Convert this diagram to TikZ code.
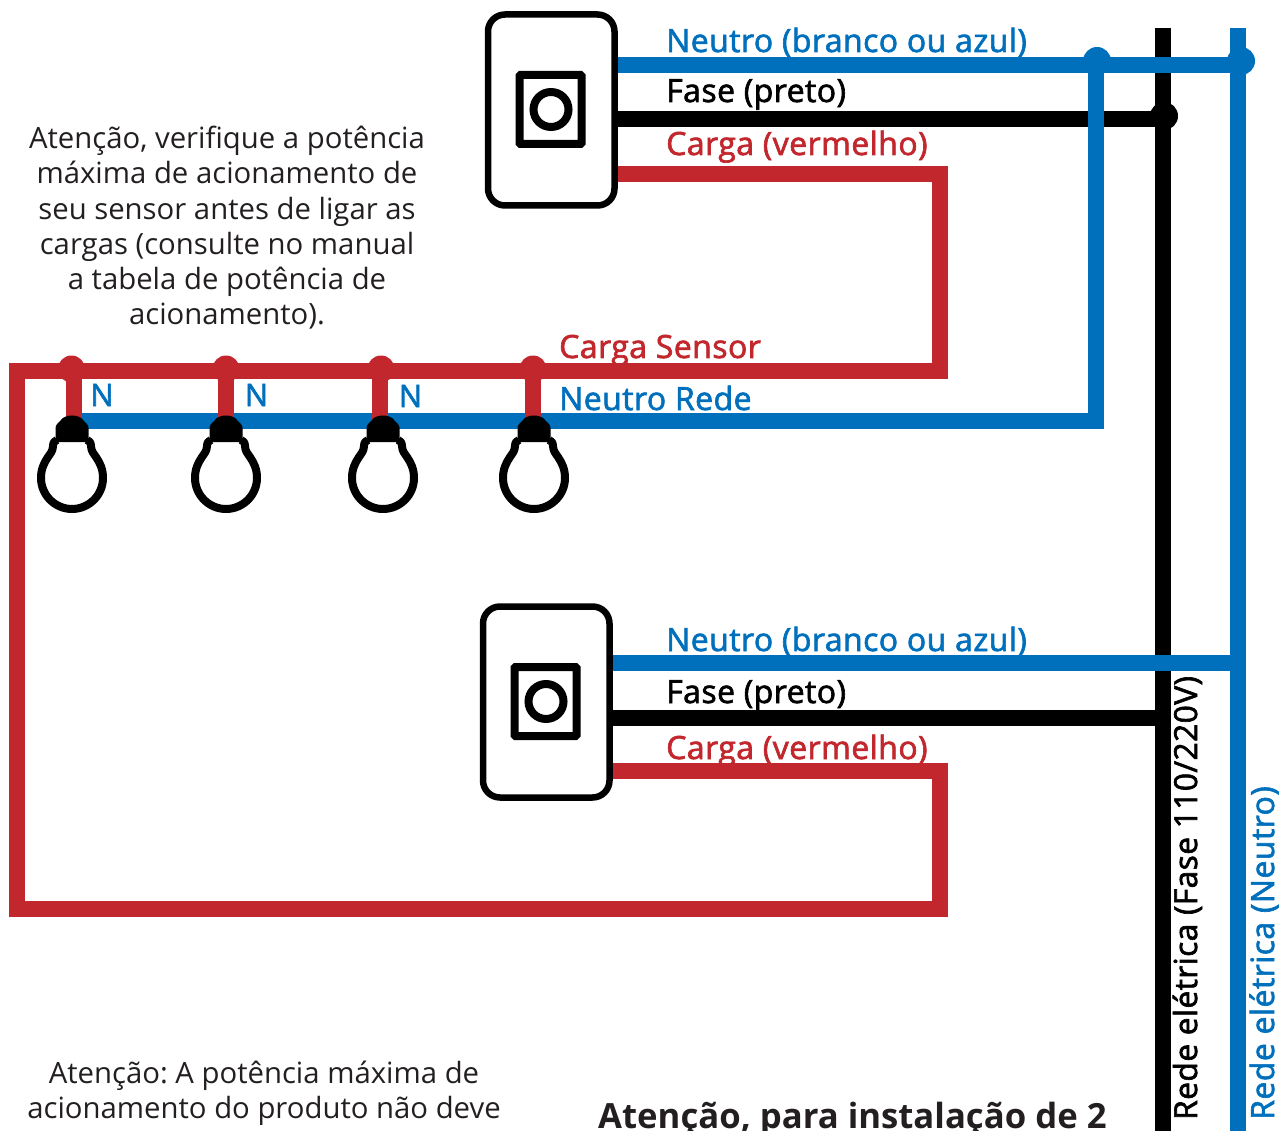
\documentclass[tikz,border=0pt]{standalone}
\usepackage{fontspec}
\setmainfont{Open Sans}
\newfontfamily\medfont[FakeBold=2,LetterSpace=1.4]{Open Sans}
\newfontfamily\boldfont{Open Sans Bold}
\definecolor{wblue}{HTML}{0070BD}
\definecolor{wred}{HTML}{C1272D}
\definecolor{ink}{HTML}{231F20}
\tikzset{
  wire/.style={line width=16pt,line cap=butt,line join=miter},
  wireblue/.style={wire,draw=wblue},
  wirered/.style={wire,draw=wred},
  wireblack/.style={wire,draw=black},
  lbl/.style={anchor=base west,inner sep=0pt,font=\medfont\fontsize{32}{36}\selectfont},
  note/.style={align=center,inner sep=0pt,text=ink,font=\frenchspacing\fontsize{29.3}{35.2}\selectfont},
  nlabel/.style={anchor=base,inner sep=0pt,text=wblue,font=\medfont\fontsize{31}{34}\selectfont},
  pics/lamp/.style={code={
    \draw[line width=8pt,black,fill=white,line join=round]
      (-15,-38) .. controls (-17,-37) and (-19,-36) .. (-19,-32)
      .. controls (-19,-27) and (-22,-24) .. (-24,-21)
      .. controls (-28,-15) and (-31,-9) .. (-31,0)
      .. controls (-31,17) and (-17,31) .. (0,31)
      .. controls (17,31) and (31,17) .. (31,0)
      .. controls (31,-9) and (28,-15) .. (24,-21)
      .. controls (22,-24) and (19,-27) .. (19,-32)
      .. controls (19,-36) and (17,-37) .. (15,-38);
    \fill[black] (-15,-36) -- (-16.5,-41) -- (-16.5,-50) .. controls (-16.5,-54) and (-13,-55) .. (-11,-58)
      .. controls (-7,-64) and (7,-64) .. (11,-58)
      .. controls (13,-55) and (16.5,-54) .. (16.5,-50) -- (16.5,-41) -- (15,-36) -- cycle;
  }},
  pics/wswitch/.style={code={
    \draw[line width=6.5pt,black,fill=white,rounded corners=17pt] (-63,-95) rectangle (63.5,96);
    \draw[line width=8pt,black,rounded corners=1pt] (-31.5,-34.5) rectangle (30.5,34.5);
    \draw[line width=8pt,black] (0,0) circle[radius=17.5pt];
  }}
}
\begin{document}
\begin{tikzpicture}[x=1pt,y=-1pt]
\useasboundingbox (0,0) rectangle (1279,1131);
\clip (0,0) rectangle (1279,1131);
% coordinates
\coordinate (sw1) at (551,109.5);
\coordinate (sw2) at (546,701.5);
\coordinate (blackTop) at (1163,28);
\coordinate (blackBot) at (1163,1131);
\coordinate (blueTop) at (1238,28);
\coordinate (blueBot) at (1238,1131);
\coordinate (jnB) at (1095.5,65);
\coordinate (jnR) at (1238,65);
\coordinate (a1) at (71.5,369);
\coordinate (a2) at (226,369);
\coordinate (a3) at (381,369);
\coordinate (a4) at (533,369);
\coordinate (l1) at (72,478);
\coordinate (l2) at (226,478);
\coordinate (l3) at (383,478);
\coordinate (l4) at (534,478);
% verticals
\draw[wireblack] (blackTop) -- (blackBot);
\draw[wireblue] (blueTop) -- (blueBot);
% black feeds
\draw[wireblack] (sw1 |- 0,119) -- (1163,119);
\fill[black] (1164,116) circle[radius=14pt];
\draw[wireblack] (sw2 |- 0,717.5) -- (1163,717.5);
% blue feeds
\draw[wireblue] (sw1 |- 0,65) -- (jnR);
\fill[wblue] (1097,61) circle[radius=14pt];
\fill[wblue] (1241,61) circle[radius=14pt];
\draw[wireblue] (jnB) -- (1095.5,420.5) -- (72,420.5);
\draw[wireblue] (sw2 |- 0,663) -- (1238,663);
% red
\draw[wirered] (sw1 |- 0,174.5) -- (939.5,174.5) -- (939.5,370.5) -- (16.5,370.5) -- (16.5,908.5) -- (939.5,908.5) -- (939.5,771) -- (sw2 |- 0,771);
\foreach \d/\s in {a1/74,a2/225.5,a3/380,a4/533}{
  \fill[wred] (\d) circle[radius=13.5pt];
  \draw[wirered] (\s,369) -- (\s,425);
}
% lamps
\pic at (l1) {lamp};
\pic at (l2) {lamp};
\pic at (l3) {lamp};
\pic at (l4) {lamp};
% switches
\pic at (sw1) {wswitch};
\pic at (sw2) {wswitch};
% labels
\node[lbl,text=wblue] (n1) at (666,52) {Neutro (branco ou azul)};
\node[lbl,text=black] (f1) at (666,102) {Fase (preto)};
\node[lbl,text=wred] (c1) at (666,155) {Carga (vermelho)};
\node[lbl,text=wblue] (n2) at (666,651) {Neutro (branco ou azul)};
\node[lbl,text=black] (f2) at (666,703) {Fase (preto)};
\node[lbl,text=wred] (c2) at (666,759) {Carga (vermelho)};
\node[lbl,text=wred] (cs) at (559,358) {Carga Sensor};
\node[lbl,text=wblue] (nr) at (559,410) {Neutro Rede};
\node[nlabel] (N1) at (102,406) {N};
\node[nlabel] (N2) at (256.5,406) {N};
\node[nlabel] (N3) at (410.5,407) {N};
\node[note,anchor=north] (warn1) at (227,126) {Atenção, verifique a potência\\máxima de acionamento de\\seu sensor antes de ligar as\\cargas (consulte no manual\\a tabela de potência de\\acionamento).};
\node[note,anchor=base] (warn2a) at (264,1083) {Atenção: A potência máxima de};
\node[note,anchor=base] (warn2b) at (264,1118) {acionamento do produto não deve};
\node[anchor=base west,inner sep=0pt,text=ink,font=\boldfont\fontsize{34.7}{40}\selectfont] (warn3) at (598,1128) {Atenção, para instalação de 2};
\node[lbl,text=black,rotate=90,font=\medfont\fontsize{31.7}{36}\selectfont] (rf) at (1197,1120) {Rede elétrica (Fase 110/220V)};
\node[lbl,text=wblue,rotate=90] (rn) at (1274,1120) {Rede elétrica (Neutro)};
\end{tikzpicture}
\end{document}
